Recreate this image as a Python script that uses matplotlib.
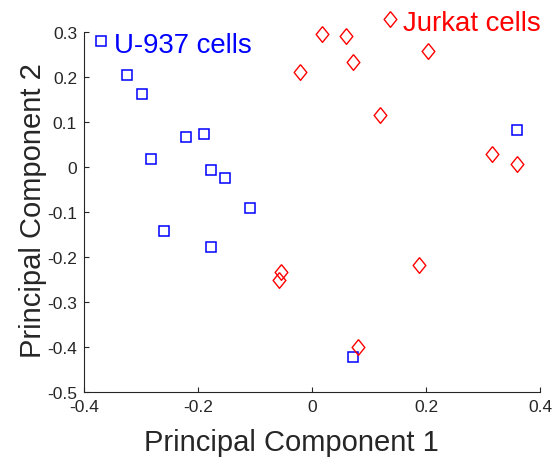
import matplotlib
matplotlib.use("Agg")
import matplotlib.pyplot as plt

plt.rcParams['font.family'] = ['Liberation Sans', 'DejaVu Sans']

# U-937 cells (blue squares)
u937_x = [-0.371, -0.325, -0.299, -0.283, -0.221, -0.190, -0.177, -0.153, -0.109, -0.259, -0.177, 0.071, 0.360]
u937_y = [0.281, 0.205, 0.164, 0.019, 0.067, 0.074, -0.007, -0.024, -0.090, -0.141, -0.178, -0.421, 0.083]

# Jurkat cells (red diamonds)
jurkat_x = [-0.021, 0.017, 0.060, 0.072, 0.203, 0.119, 0.315, 0.360, 0.187, 0.080, -0.055, -0.058]
jurkat_y = [0.212, 0.297, 0.292, 0.233, 0.259, 0.116, 0.029, 0.008, -0.216, -0.400, -0.233, -0.250]

# legend-style marker for Jurkat label
jurkat_label_x = [0.1365]
jurkat_label_y = [0.330]

xticks = [-0.4, -0.2, 0, 0.2, 0.4]
xticklabels = ['-0.4', '-0.2', '0', '0.2', '0.4']
yticks = [-0.5, -0.4, -0.3, -0.2, -0.1, 0, 0.1, 0.2, 0.3]
yticklabels = ['-0.5', '-0.4', '-0.3', '-0.2', '-0.1', '0', '0.1', '0.2', '0.3']

fig = plt.figure(figsize=(5.57, 4.60), dpi=100)
ax = fig.add_axes([0.1508, 0.145, 0.970 - 0.1508, 0.9276 - 0.145])

diamond = [(0, 1), (0.81, 0), (0, -1), (-0.81, 0), (0, 1)]

ax.plot(u937_x, u937_y, linestyle='none', marker='s', ms=7.6, mfc='none',
        mec=(0, 0, 1), mew=1.1, clip_on=False)
ax.plot(jurkat_x, jurkat_y, linestyle='none', marker=diamond, ms=11.3, mfc='none',
        mec=(1, 0, 0), mew=1.0, clip_on=False)
ax.plot(jurkat_label_x, jurkat_label_y, linestyle='none', marker=diamond, ms=11.3,
        mfc='none', mec=(1, 0, 0), mew=1.0, clip_on=False)

ax.text(-0.347, 0.2556, 'U-937 cells', color=(0, 0, 1), fontsize=19.9, va='baseline', ha='left')
ax.text(0.1597, 0.3058, 'Jurkat cells', color=(1, 0, 0), fontsize=19.9, va='baseline', ha='left')

ax.set_xlim(-0.4, 0.4)
ax.set_ylim(-0.5, 0.3)
ax.set_xticks(xticks)
ax.set_xticklabels(xticklabels)
ax.set_yticks(yticks)
ax.set_yticklabels(yticklabels)

for s in ['top', 'right']:
    ax.spines[s].set_visible(False)
for s in ['left', 'bottom']:
    ax.spines[s].set_color('#262626')
    ax.spines[s].set_linewidth(0.8)

ax.tick_params(direction='in', length=3.5, width=0.8, colors='#262626',
               labelsize=12.5, labelcolor='#262626')
ax.tick_params(axis='y', pad=5)
ax.tick_params(axis='x', pad=5)

fig.text(291 / 557, 1 - 451 / 460, 'Principal Component 1', fontsize=21, color='#262626',
         ha='center', va='baseline')
fig.text(33 / 557, 1 - 211 / 460, 'Principal Component 2', fontsize=21, color='#262626',
         ha='center', va='center', rotation=90)

fig.savefig('out.png', dpi=100)
